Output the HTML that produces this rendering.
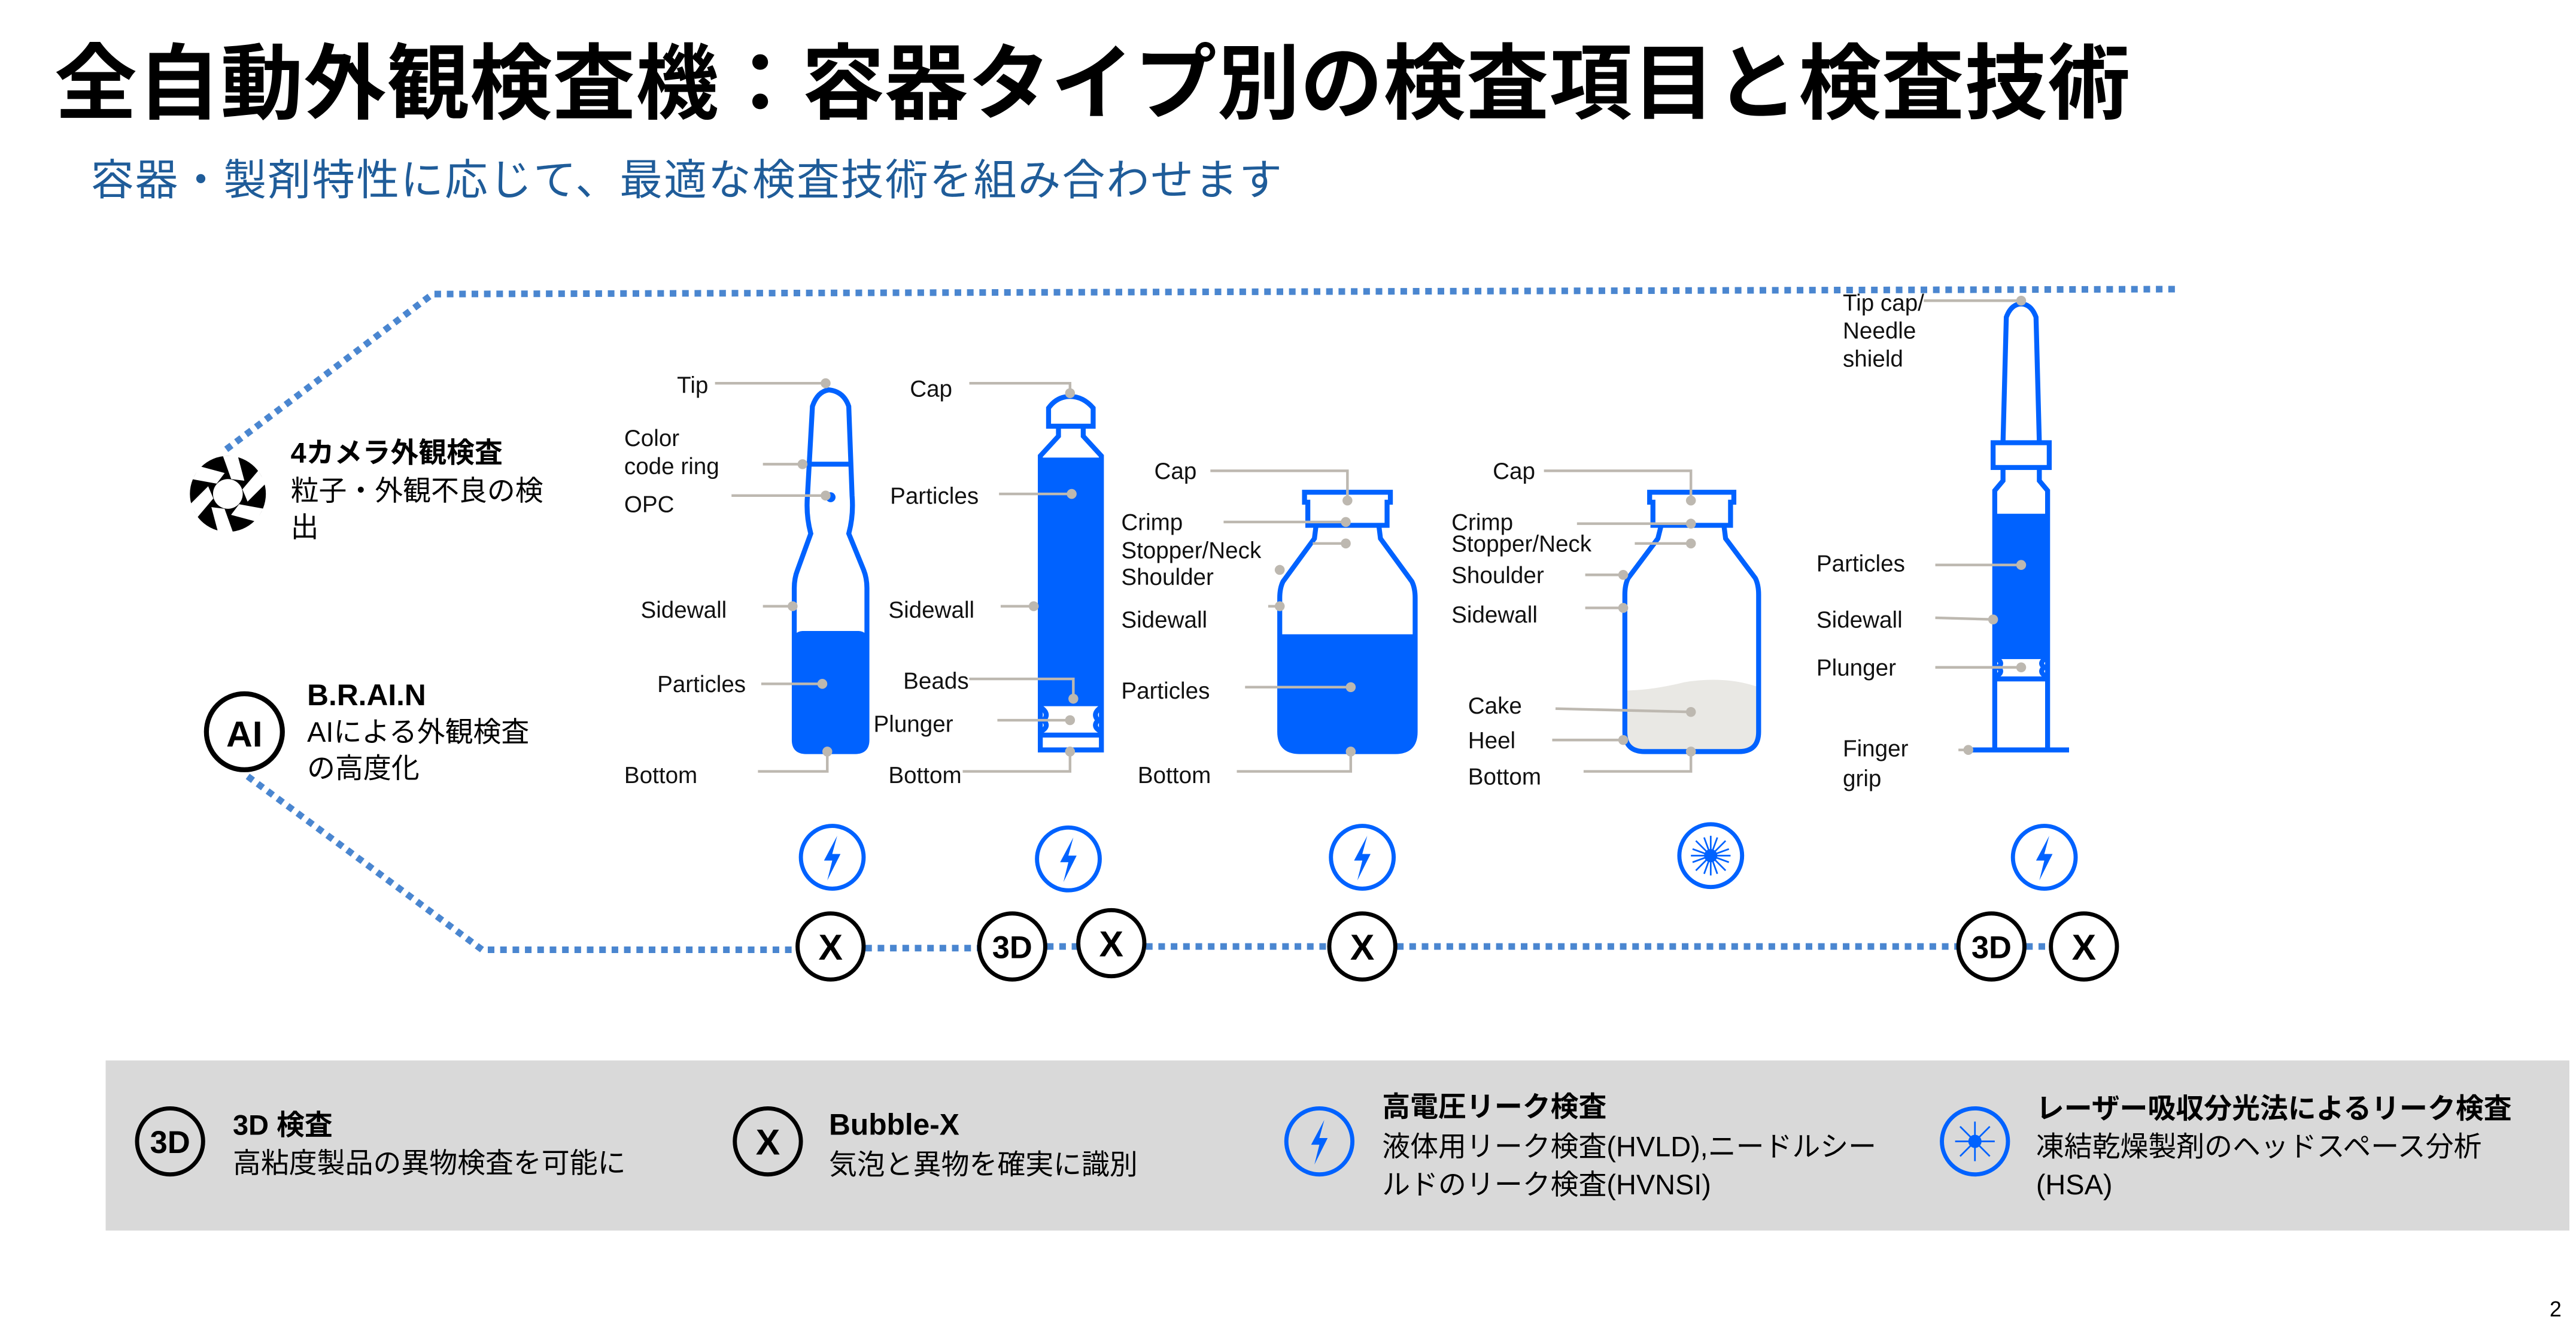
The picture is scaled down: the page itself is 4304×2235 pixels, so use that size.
<!DOCTYPE html>
<html><head><meta charset="utf-8"><style>
html,body{margin:0;padding:0;background:#fff;width:4304px;height:2235px;overflow:hidden}
svg{display:block}
text{font-family:"Liberation Sans","Noto Sans CJK JP",sans-serif}
.l{font-size:14px;fill:#111}
.g{stroke:#BDB8B0;stroke-width:1.6;fill:none}
.d{fill:#BDB8B0}
.b{stroke:#0062FF;stroke-width:3;fill:none}
</style></head><body>
<svg width="4304" height="2235" viewBox="0 0 1560 810" xmlns="http://www.w3.org/2000/svg">
<rect width="1560" height="810" fill="#fff"/>
<text x="33" y="68" font-size="50" font-weight="bold" fill="#000" letter-spacing="0.3">全自動外観検査機：容器タイプ別の検査項目と検査技術</text>
<text x="55" y="118" font-size="26" fill="#1F5C99" letter-spacing="0.8">容器・製剤特性に応じて、最適な検査技術を組み合わせます</text>

<g stroke="#4A86D0" stroke-width="4" stroke-dasharray="4,3.5" fill="none">
<path d="M137,272 L262,178 L1320,175"/>
<path d="M150,470 L292,575 L482,575"/>
<path d="M524,574 L592,574"/><path d="M634,573 L653,573"/>
<path d="M694,573 L805,573"/><path d="M846,573 L1186,573"/><path d="M1227,573 L1242,573"/>
</g>

<!-- camera icon -->
<circle cx="138" cy="299" r="23" fill="#000"/>
<g fill="#fff" transform="translate(138,299)">
<circle r="9"/>
<g id="bl"><polygon points="-3,-23 6,-23 10,-8 2,-9"/></g>
<use href="#bl" transform="rotate(60)"/><use href="#bl" transform="rotate(120)"/><use href="#bl" transform="rotate(180)"/><use href="#bl" transform="rotate(240)"/><use href="#bl" transform="rotate(300)"/>
</g>
<text x="176" y="280" font-size="17" font-weight="bold">4カメラ外観検査</text>
<text x="176" y="303" font-size="17">粒子・外観不良の検</text>
<text x="176" y="325" font-size="17">出</text>

<circle cx="148" cy="443" r="23" fill="none" stroke="#000" stroke-width="3"/>
<text x="148" y="452" font-size="22" font-weight="bold" text-anchor="middle">AI</text>
<text x="186" y="427" font-size="18" font-weight="bold">B.R.AI.N</text>
<text x="186" y="449" font-size="17">AIによる外観検査</text>
<text x="186" y="471" font-size="17">の高度化</text>

<!-- Ampoule -->
<rect x="480" y="382" width="46" height="74" rx="6" fill="#0062FF"/>
<path class="b" d="M502,236 Q495,237 492,246 L489,300 Q488,312 491,323 L483,345 Q481,350 481,356 L481,448 Q481,455 488,455 L518,455 Q525,455 525,448 L525,356 Q525,350 523,345 L514,323 Q517,312 516,300 L514,246 Q511,237 502,236 Z"/>
<line x1="488" y1="281" x2="515" y2="281" stroke="#0062FF" stroke-width="3"/>
<circle cx="503" cy="301" r="3" fill="#0062FF"/>
<g class="g"><path d="M433,232 L500,232"/><path d="M462,281 L486,281"/><path d="M443,300 L500,300"/><path d="M462,367 L480,367"/><path d="M461,414 L498,414"/><path d="M459,467 L501,467 L501,455"/></g>
<g class="d"><circle cx="500" cy="232" r="3"/><circle cx="486" cy="281" r="3"/><circle cx="500" cy="300" r="3"/><circle cx="480" cy="367" r="3"/><circle cx="498" cy="414" r="3"/><circle cx="501" cy="455" r="3"/></g>
<text class="l" x="410" y="238">Tip</text><text class="l" x="378" y="270">Color</text><text class="l" x="378" y="287">code ring</text><text class="l" x="378" y="310">OPC</text><text class="l" x="388" y="374">Sidewall</text><text class="l" x="398" y="419">Particles</text><text class="l" x="378" y="474">Bottom</text>

<!-- Cartridge -->
<rect x="629" y="277" width="39" height="149" fill="#0062FF"/>
<path class="b" d="M635,258 L635,247 Q640,240 648,240 Q656,240 662,247 L662,258 Z"/>
<path class="b" d="M641,259 L641,264 L630,276 L630,454 L667,454 L667,276 L656,264 L656,259"/>
<line x1="630" y1="445" x2="667" y2="445" stroke="#0062FF" stroke-width="3"/>
<line x1="630" y1="426" x2="667" y2="426" stroke="#0062FF" stroke-width="3"/>
<path d="M630,428 Q636,432 632,436 Q636,440 630,443" class="b" stroke-width="2"/>
<path d="M667,428 Q661,432 665,436 Q661,440 667,443" class="b" stroke-width="2"/>
<g class="g"><path d="M587,232 L648,232 L648,238"/><path d="M605,299 L649,299"/><path d="M606,367 L626,367"/><path d="M587,411 L650,411 L650,423"/><path d="M604,436 L648,436"/><path d="M583,467 L648,467 L648,455"/></g>
<g class="d"><circle cx="648" cy="238" r="3"/><circle cx="649" cy="299" r="3"/><circle cx="626" cy="367" r="3"/><circle cx="650" cy="423" r="3"/><circle cx="648" cy="436" r="3"/><circle cx="648" cy="455" r="3"/></g>
<text class="l" x="551" y="240">Cap</text><text class="l" x="539" y="305">Particles</text><text class="l" x="538" y="374">Sidewall</text><text class="l" x="547" y="417">Beads</text><text class="l" x="529" y="443">Plunger</text><text class="l" x="538" y="474">Bottom</text>

<!-- Vial 1 -->
<path d="M774,384 L858,384 L858,443 Q858,456 846,456 L786,456 Q774,456 774,443 Z" fill="#0062FF"/>
<path class="b" d="M790,304 L790,298 L842,298 L842,304 L840,304 L840,318 L792,318 L792,304 Z"/>
<path class="b" d="M797,318 L796,326 L777,352 Q775,356 775,362 L775,443 Q775,455 787,455 L845,455 Q857,455 857,443 L857,362 Q857,356 855,352 L836,326 L835,318"/>
<g class="g"><path d="M733,285 L816,285 L816,303"/><path d="M741,316 L815,316"/><path d="M795,329 L815,329"/><path d="M772,345 L775,345"/><path d="M768,367 L775,367"/><path d="M754,416 L818,416"/><path d="M749,467 L818,467 L818,455"/></g>
<g class="d"><circle cx="816" cy="303" r="3"/><circle cx="815" cy="316" r="3"/><circle cx="815" cy="329" r="3"/><circle cx="775" cy="345" r="3"/><circle cx="775" cy="367" r="3"/><circle cx="818" cy="416" r="3"/><circle cx="818" cy="455" r="3"/></g>
<text class="l" x="699" y="290">Cap</text><text class="l" x="679" y="321">Crimp</text><text class="l" x="679" y="338">Stopper/Neck</text><text class="l" x="679" y="354">Shoulder</text><text class="l" x="679" y="380">Sidewall</text><text class="l" x="679" y="423">Particles</text><text class="l" x="689" y="474">Bottom</text>

<!-- Vial 2 -->
<path d="M984,418 Q1000,418 1020,413 Q1045,409 1065,416 L1065,443 Q1065,455 1053,455 L996,455 Q984,455 984,443 Z" fill="#E9E8E4"/>
<path class="b" d="M999,304 L999,298 L1050,298 L1050,304 L1048,304 L1048,318 L1001,318 L1001,304 Z"/>
<path class="b" d="M1006,318 L1004,326 L986,350 Q984,354 984,360 L984,443 Q984,455 996,455 L1053,455 Q1065,455 1065,443 L1065,360 Q1065,354 1063,350 L1045,326 L1044,318"/>
<g class="g"><path d="M935,285 L1024,285 L1024,303"/><path d="M955,317 L1024,317"/><path d="M990,329 L1024,329"/><path d="M960,348 L983,348"/><path d="M960,368 L983,368"/><path d="M942,429 L1024,431"/><path d="M940,448 L983,448"/><path d="M959,467 L1024,467 L1024,455"/></g>
<g class="d"><circle cx="1024" cy="303" r="3"/><circle cx="1024" cy="317" r="3"/><circle cx="1024" cy="329" r="3"/><circle cx="983" cy="348" r="3"/><circle cx="983" cy="368" r="3"/><circle cx="1024" cy="431" r="3"/><circle cx="983" cy="448" r="3"/><circle cx="1024" cy="455" r="3"/></g>
<text class="l" x="904" y="290">Cap</text><text class="l" x="879" y="321">Crimp</text><text class="l" x="879" y="334">Stopper/Neck</text><text class="l" x="879" y="353">Shoulder</text><text class="l" x="879" y="377">Sidewall</text><text class="l" x="889" y="432">Cake</text><text class="l" x="889" y="453">Heel</text><text class="l" x="889" y="475">Bottom</text>

<!-- Syringe -->
<rect x="1207" y="311" width="34" height="88" fill="#0062FF"/>
<path class="b" d="M1213,268 L1215,192 Q1218,184 1224,184 Q1230,184 1233,192 L1235,268"/>
<rect class="b" x="1207" y="268" width="34" height="15"/>
<path class="b" d="M1213,283 L1213,291 L1208,297 L1208,454 M1235,283 L1235,291 L1240,297 L1240,454"/>
<line x1="1208" y1="411" x2="1240" y2="411" stroke="#0062FF" stroke-width="3"/>
<path d="M1208,398 Q1214,401 1210,404 Q1214,407 1208,410" class="b" stroke-width="2"/>
<path d="M1240,398 Q1234,401 1238,404 Q1234,407 1240,410" class="b" stroke-width="2"/>
<line x1="1192" y1="454" x2="1253" y2="454" stroke="#0062FF" stroke-width="3"/>
<g class="g"><path d="M1165,182 L1224,182"/><path d="M1172,342 L1224,342"/><path d="M1172,374 L1207,375"/><path d="M1172,404 L1224,404"/><path d="M1186,454 L1192,454"/></g>
<g class="d"><circle cx="1224" cy="182" r="3"/><circle cx="1224" cy="342" r="3"/><circle cx="1207" cy="375" r="3"/><circle cx="1224" cy="404" r="3"/><circle cx="1192" cy="454" r="3"/></g>
<text class="l" x="1116" y="188">Tip cap/</text><text class="l" x="1116" y="205">Needle</text><text class="l" x="1116" y="222">shield</text><text class="l" x="1100" y="346">Particles</text><text class="l" x="1100" y="380">Sidewall</text><text class="l" x="1100" y="409">Plunger</text><text class="l" x="1116" y="458">Finger</text><text class="l" x="1116" y="476">grip</text>

<defs>
<g id="hv"><circle r="19" fill="#fff" stroke="#0062FF" stroke-width="2.5"/><polygon points="3,-13 -5,2 0,2 -3,14 5,-2 0,-2" fill="#0062FF"/></g>
<g id="lz"><circle r="19" fill="#fff" stroke="#0062FF" stroke-width="2.5"/><g stroke="#0062FF" stroke-width="1"><line x1="-12" y1="0" x2="12" y2="0"/><line x1="0" y1="-12" x2="0" y2="12"/><line x1="-9" y1="-9" x2="9" y2="9"/><line x1="-9" y1="9" x2="9" y2="-9"/><line x1="-4" y1="-11" x2="4" y2="11"/><line x1="4" y1="-11" x2="-4" y2="11"/><line x1="-11" y1="-4" x2="11" y2="4"/><line x1="-11" y1="4" x2="11" y2="-4"/></g><circle r="4" fill="#0062FF"/></g>
<g id="xx"><circle r="20" fill="#fff" stroke="#000" stroke-width="2.5"/><text y="8" font-size="22" font-weight="bold" text-anchor="middle">X</text></g>
<g id="td"><circle r="20" fill="#fff" stroke="#000" stroke-width="2.5"/><text y="7" font-size="19" font-weight="bold" text-anchor="middle">3D</text></g>
</defs>
<use href="#hv" x="504" y="519"/><use href="#hv" x="647" y="520"/><use href="#hv" x="825" y="519"/><use href="#hv" x="1238" y="519"/><use href="#lz" x="1036" y="518"/>
<use href="#xx" x="503" y="573"/><use href="#xx" x="673" y="571"/><use href="#xx" x="825" y="573"/><use href="#xx" x="1262" y="573"/>
<use href="#td" x="613" y="573"/><use href="#td" x="1206" y="573"/>

<rect x="64" y="642" width="1492" height="103" fill="#D9D9D9"/>
<g transform="translate(103,691)"><circle r="20" fill="none" stroke="#000" stroke-width="2.5"/><text y="7" font-size="19" font-weight="bold" text-anchor="middle">3D</text></g>
<text x="141" y="687" font-size="17" font-weight="bold">3D 検査</text>
<text x="141" y="710" font-size="17">高粘度製品の異物検査を可能に</text>
<g transform="translate(465,691)"><circle r="20" fill="none" stroke="#000" stroke-width="2.5"/><text y="8" font-size="22" font-weight="bold" text-anchor="middle">X</text></g>
<text x="502" y="687" font-size="18" font-weight="bold">Bubble-X</text>
<text x="502" y="711" font-size="17">気泡と異物を確実に識別</text>
<g transform="translate(799,691)"><circle r="20" fill="none" stroke="#0062FF" stroke-width="2.5"/><polygon points="3,-13 -5,2 0,2 -3,14 5,-2 0,-2" fill="#0062FF"/></g>
<text x="837" y="676" font-size="17" font-weight="bold">高電圧リーク検査</text>
<text x="837" y="700" font-size="17">液体用リーク検査(HVLD),ニードルシー</text>
<text x="837" y="723" font-size="17">ルドのリーク検査(HVNSI)</text>
<g transform="translate(1196,691)"><circle r="20" fill="none" stroke="#0062FF" stroke-width="2.5"/><g stroke="#0062FF" stroke-width="1"><line x1="-12" y1="0" x2="12" y2="0"/><line x1="0" y1="-12" x2="0" y2="12"/><line x1="-9" y1="-9" x2="9" y2="9"/><line x1="-9" y1="9" x2="9" y2="-9"/></g><circle r="4" fill="#0062FF"/></g>
<text x="1233" y="677" font-size="17" font-weight="bold">レーザー吸収分光法によるリーク検査</text>
<text x="1233" y="700" font-size="17">凍結乾燥製剤のヘッドスペース分析</text>
<text x="1233" y="723" font-size="17">(HSA)</text>
<text x="1544" y="797" font-size="13">2</text>
</svg>
</body></html>
